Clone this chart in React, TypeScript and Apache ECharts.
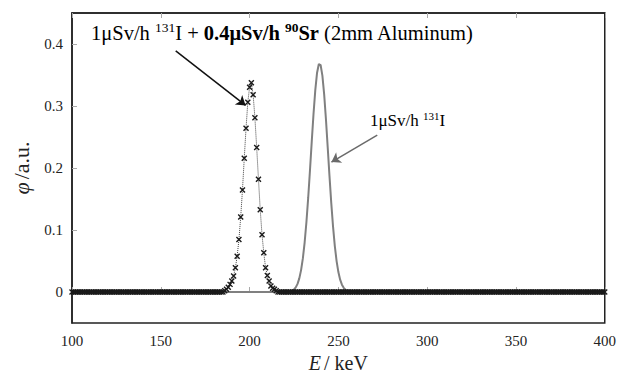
import React, { useEffect, useRef } from "react";
import * as echarts from "echarts";

// Energy axis, 1 keV channels
const E_MIN = 100;
const E_MAX = 400;
const yTicks = [0, 0.1, 0.2, 0.3, 0.4];

// 131I + 90Sr (2mm Al) spectrum: non-zero channels around the shifted peak
const mixEnergies = [186, 187, 188, 189, 190, 191, 192, 193, 194, 195, 196, 197, 198, 199, 200, 201, 202, 203, 204, 205, 206, 207, 208, 209, 210, 211, 212, 213, 214, 215];
const mixValues = [0.002, 0.0043, 0.0075, 0.0123, 0.0176, 0.0257, 0.039, 0.0577, 0.0845, 0.121, 0.1647, 0.2156, 0.264, 0.306, 0.3304, 0.3374, 0.318, 0.281, 0.233, 0.182, 0.1326, 0.0925, 0.0632, 0.039, 0.0268, 0.0176, 0.0096, 0.006, 0.0043, 0.002];

// 131I only spectrum: non-zero channels around the 240 keV peak
const iodineEnergies = [223, 224, 225, 226, 227, 228, 229, 230, 231, 232, 233, 234, 235, 236, 237, 238, 239, 240, 241, 242, 243, 244, 245, 246, 247, 248, 249, 250, 251, 252, 253, 254, 255];
const iodineValues = [0.001, 0.0021, 0.0041, 0.0075, 0.0131, 0.022, 0.0353, 0.0542, 0.0798, 0.1125, 0.1517, 0.196, 0.2425, 0.2871, 0.3256, 0.3537, 0.3677, 0.3661, 0.3491, 0.3187, 0.2786, 0.2331, 0.1868, 0.1434, 0.1054, 0.0741, 0.0499, 0.0322, 0.0199, 0.0118, 0.0067, 0.0036, 0.0018];

const SERIF = "Liberation Serif, Times New Roman, serif";

function spectrum(energies: number[], values: number[]): [number, number][] {
  const out: [number, number][] = [];
  for (let e = E_MIN; e <= E_MAX; e++) {
    const i = energies.indexOf(e);
    out.push([e, i >= 0 ? values[i] : 0]);
  }
  return out;
}

export default function App() {
  const ref = useRef<HTMLDivElement>(null);

  useEffect(() => {
    if (!ref.current) return;
    const chart = echarts.init(ref.current, undefined, { renderer: "svg" });

    const tickLabel = { fontFamily: SERIF, fontSize: 15, color: "#222" };

    chart.setOption({
      animation: false,
      backgroundColor: "#fff",
      textStyle: { fontFamily: SERIF },
      grid: {
        left: 72,
        right: 13,
        top: 13,
        bottom: 55,
        containLabel: false,
        show: true,
        borderColor: "#222",
        borderWidth: 1.5,
        backgroundColor: "transparent",
      },
      xAxis: [
        {
          type: "value",
          min: E_MIN,
          max: E_MAX,
          interval: 50,
          position: "bottom",
          name: "{i|E} {r|/ keV}",
          nameLocation: "middle",
          nameGap: 27,
          nameTextStyle: {
            rich: {
              i: { fontFamily: SERIF, fontSize: 20, fontStyle: "italic", color: "#222" },
              r: { fontFamily: SERIF, fontSize: 20, color: "#222" },
            },
          },
          axisLine: { show: true, lineStyle: { color: "#222", width: 1.5 } },
          axisTick: { show: true, inside: true, length: 5, lineStyle: { color: "#aaa" } },
          axisLabel: {
            ...tickLabel,
            margin: 10,
            formatter: (v: number) => String(v),
          },
          splitLine: { show: false },
        },
        {
          type: "value",
          min: E_MIN,
          max: E_MAX,
          interval: 50,
          position: "top",
          axisLine: { show: true, lineStyle: { color: "#222", width: 1.5 } },
          axisTick: { show: true, inside: true, length: 5, lineStyle: { color: "#aaa" } },
          axisLabel: { show: false },
          splitLine: { show: false },
        },
      ],
      yAxis: [
        {
          type: "value",
          min: -0.05,
          max: 0.45,
          position: "left",
          name: "{i|φ} {r|/a.u.}",
          nameLocation: "middle",
          nameRotate: 90,
          nameGap: 40,
          nameTextStyle: {
            rich: {
              i: { fontFamily: SERIF, fontSize: 22, fontStyle: "italic", color: "#222" },
              r: { fontFamily: SERIF, fontSize: 22, color: "#222" },
            },
          },
          axisLine: { show: true, lineStyle: { color: "#222", width: 1.5 } },
          axisTick: { show: true, inside: true, length: 5, customValues: yTicks, lineStyle: { color: "#aaa" } },
          axisLabel: {
            ...tickLabel,
            margin: 9,
            customValues: yTicks,
            formatter: (v: number) => (v === 0 ? "0" : v.toFixed(1)),
          },
          splitLine: { show: false },
        },
      ],
      series: [
        {
          name: "131I",
          type: "line",
          data: spectrum(iodineEnergies, iodineValues),
          showSymbol: false,
          symbol: "none",
          lineStyle: { color: "#808080", width: 2 },
          z: 2,
          silent: true,
          markLine: {
            silent: true,
            symbol: ["none", "arrow"],
            symbolSize: 9,
            label: { show: false },
            lineStyle: { color: "#6a6a6a", width: 1.5, type: "solid" },
            data: [[{ coord: [271.9, 0.253] }, { coord: [246.1, 0.2096] }]],
          },
        },
        {
          name: "131I + 90Sr",
          type: "line",
          data: spectrum(mixEnergies, mixValues),
          symbol: "path://M0 0L8 8M8 0L0 8",
          symbolSize: 5,
          showAllSymbol: true,
          itemStyle: { color: "#1a1a1a", borderColor: "#1a1a1a", borderWidth: 1.4 },
          lineStyle: { color: "#444", width: 1, type: "dotted" },
          z: 3,
          silent: true,
          markLine: {
            silent: true,
            symbol: ["none", "arrow"],
            symbolSize: 9,
            label: { show: false },
            lineStyle: { color: "#111", width: 1.5, type: "solid" },
            data: [[{ coord: [158.4, 0.389] }, { coord: [197.75, 0.301] }]],
          },
        },
      ],
      graphic: [
        {
          type: "text",
          left: 91,
          top: 20,
          style: {
            text: "{r|1μSv/h }{s|131}{r|I + }{b|0.4μSv/h }{sb|90}{b|Sr}{r| (2mm Aluminum)}",
            rich: {
              r: { fontFamily: SERIF, fontSize: 20.5, color: "#111", lineHeight: 25 },
              b: { fontFamily: SERIF, fontSize: 20.5, fontWeight: "bold", color: "#111", lineHeight: 25 },
              s: { fontFamily: SERIF, fontSize: 13.5, color: "#111", verticalAlign: "top", lineHeight: 25 },
              sb: { fontFamily: SERIF, fontSize: 13.5, fontWeight: "bold", color: "#111", verticalAlign: "top", lineHeight: 25 },
            },
          },
        },
        {
          type: "text",
          left: 370,
          top: 110,
          style: {
            text: "{r|1μSv/h }{s|131}{r|I}",
            rich: {
              r: { fontFamily: SERIF, fontSize: 17, color: "#6f6f6f", lineHeight: 20 },
              s: { fontFamily: SERIF, fontSize: 11, color: "#6f6f6f", verticalAlign: "top", lineHeight: 20 },
            },
          },
        },
      ],
    });

    return () => chart.dispose();
  }, []);

  return (
    <div
      ref={ref}
      style={{ position: "fixed", left: 0, top: 0, width: 619, height: 378 }}
    />
  );
}
